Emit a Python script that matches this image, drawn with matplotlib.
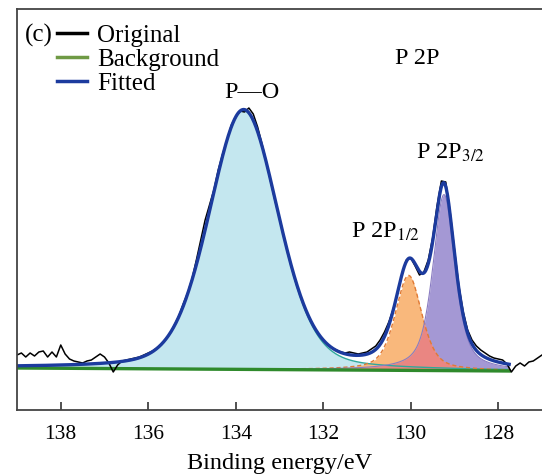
import numpy as np
import matplotlib
matplotlib.use('Agg')
import matplotlib.pyplot as plt
from matplotlib.lines import Line2D

plt.rcParams['font.family'] = ['Liberation Serif', 'DejaVu Serif']
plt.rcParams['mathtext.fontset'] = 'stix'

# measured spectrum, 0.1 eV steps from 139.0 down to 127.0 eV
be_raw = np.round(np.arange(139.0, 126.95, -0.1), 1)
original = [55, 57, 53, 57, 54, 58, 59, 53, 58, 53,
            65, 56, 51, 49, 48, 47, 49, 50, 53, 56,
            53, 47, 38, 45, 49, 50, 51, 52, 53, 55,
            57, 59, 62, 66, 71, 77, 85, 94, 106, 117,
            131, 150, 170, 190, 205, 220, 240, 256, 270, 285,
            293, 299, 298, 302, 296, 283, 266, 248, 228, 209,
            192, 174, 156, 139, 124, 112, 100, 90, 82, 75,
            70, 65, 62, 60, 58, 57, 58, 57, 56, 57,
            58, 61, 64, 70, 78, 88, 101, 117, 136, 150,
            152, 144, 135, 138, 150, 172, 204, 229, 228, 198,
            160, 124, 98, 80, 70, 64, 60, 57, 54, 52,
            51, 50, 46, 38, 44, 47, 44, 48, 49, 52,
            55]

# fitted components (pseudo-Voigt): P-O, P 2p1/2, P 2p3/2
peak_centers = [133.82, 130.05, 129.24]
peak_heights = [259, 95, 176]
peak_fwhm = [1.86, 0.72, 0.60]
peak_eta = [0.25, 0.5, 0.6]

# linear background end points
bg_be = [127.75, 139.0]
bg_val = [39, 42]


def pseudo_voigt(x, c, h, w, eta):
    u = (x - c) / w
    g = np.exp(-4 * np.log(2) * u ** 2)
    l = 1 / (1 + 4 * u ** 2)
    return h * ((1 - eta) * g + eta * l)


be_fit = np.linspace(139.0, 127.75, 800)
bg = np.interp(be_fit, bg_be, bg_val)
comps = [pseudo_voigt(be_fit, c, h, w, e)
         for c, h, w, e in zip(peak_centers, peak_heights, peak_fwhm, peak_eta)]
fitted = bg + comps[0] + comps[1] + comps[2]

fig = plt.figure(figsize=(5.42, 4.76), dpi=100)
ax = fig.add_axes([17 / 542, 1 - 410 / 476, 525 / 542, 401 / 476])

# component fills
ax.fill_between(be_fit, bg, bg + comps[0], color='#c4e7ef', lw=0)
ax.fill_between(be_fit, bg, bg + comps[2], color='#a498d4', lw=0)
ax.fill_between(be_fit, bg, bg + comps[1], color='#f9b87c', lw=0)
ax.fill_between(be_fit, bg, bg + np.minimum(comps[1], comps[2]), color='#ea8682', lw=0)

ax.plot(be_fit, bg + comps[0], color='#2fa89b', lw=1.0)
ax.plot(be_fit, bg + comps[1], color='#e07a35', lw=1.0, ls=(0, (3, 2)))
ax.plot(be_fit, bg + comps[2], color='#8a7cc2', lw=0.8)

ax.plot(be_fit, bg, color='#2f8a2c', lw=2.4)
ax.plot(be_raw, original, color='black', lw=1.1)
ax.plot(be_fit, fitted, color='#1c3b9e', lw=2.4)

ax.set_xlim(139, 127)
ax.set_ylim(0, 401)
ax.set_xticks([138, 136, 134, 132, 130, 128])
ax.set_yticks([])
ax.tick_params(axis='x', direction='in', length=6, width=1.2, pad=11,
               labelsize=15.5, color='#333333')
ax.spines['right'].set_visible(False)
for s in ['left', 'top', 'bottom']:
    ax.spines[s].set_color('#444444')
    ax.spines[s].set_linewidth(1.3)
ax.set_xlabel('Binding energy/eV', fontsize=17.5, labelpad=6)

handles = [Line2D([], [], color='black', lw=2.5),
           Line2D([], [], color='#6f9a45', lw=2.5),
           Line2D([], [], color='#1c3b9e', lw=2.5)]
ax.legend(handles, ['Original', 'Background', 'Fitted'], loc='upper left',
          bbox_to_anchor=(0.076, 0.962), frameon=False, fontsize=18,
          handlelength=1.2, handletextpad=0.4, labelspacing=0.06,
          borderaxespad=0, borderpad=0)
fig.text(25 / 542, 1 - 35 / 476, '(c)', fontsize=18, va='center', ha='left')

ax.text(133.62, 318, 'P\u2014O', fontsize=17.5, ha='center', va='center')
ax.text(129.86, 352, 'P 2P', fontsize=17.5, ha='center', va='center')
ax.text(129.1, 257, r'P 2P$_{3/2}$', fontsize=17.5, ha='center', va='center')
ax.text(130.57, 178, r'P 2P$_{1/2}$', fontsize=17.5, ha='center', va='center')

fig.savefig('out.png', dpi=100)
